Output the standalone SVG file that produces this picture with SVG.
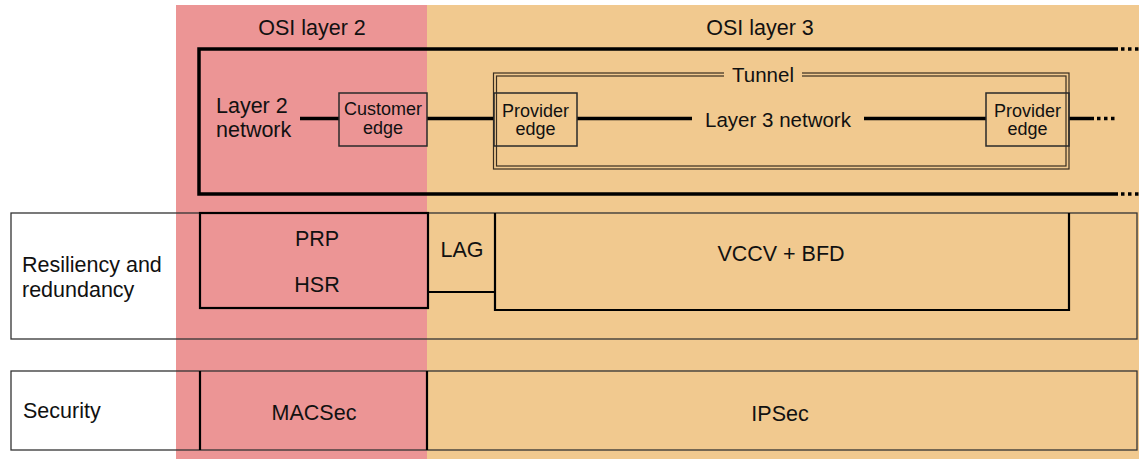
<svg xmlns="http://www.w3.org/2000/svg" width="1139" height="459" viewBox="0 0 1139 459">
  <style>
    text { font-family: "Liberation Sans", Arial, sans-serif; fill: #111; }
    .big { font-size: 21.5px; }
    .mid { font-size: 20.5px; }
    .small { font-size: 18px; }
    .mid-c, .big-c, .small-c { text-anchor: middle; }
    .frame { fill: none; stroke: #000; stroke-width: 3.5; }
    .box { fill: none; stroke: #2a2a2a; stroke-width: 1.5; }
    .hard { fill: none; stroke: #000; stroke-width: 2.2; }
    .row { fill: none; stroke: #333; stroke-width: 1.3; }
    .dbl { fill: none; stroke: #3a2e20; stroke-width: 1.2; }
    .link { stroke: #000; stroke-width: 3.5; fill: none; }
    .dots { stroke: #000; stroke-width: 3.5; fill: none; stroke-dasharray: 3.5 3.5; }
  </style>

  <rect x="0" y="0" width="1139" height="459" fill="#fff"/>

  <!-- OSI layer columns -->
  <g id="osi-layer-2">
    <rect x="176" y="5" width="251" height="454" fill="#EC9595"/>
    <text class="big big-c" x="312" y="35">OSI layer 2</text>
  </g>
  <g id="osi-layer-3">
    <rect x="427" y="5" width="712" height="454" fill="#F1C98F"/>
    <text class="big big-c" x="760" y="35">OSI layer 3</text>
  </g>

  <!-- network frame, open to the right -->
  <g id="network-frame">
    <path class="frame" d="M1118 49 H199 V194 H1118"/>
    <path class="dots" d="M1121 49 H1139 M1121 194 H1139"/>
  </g>

  <!-- tunnel (double outline) -->
  <g id="tunnel">
    <rect class="dbl" x="493.5" y="73" width="575.5" height="96"/>
    <rect class="dbl" x="496.5" y="76" width="569.5" height="90"/>
    <rect x="724" y="66" width="78" height="16" fill="#F1C98F"/>
    <text class="mid mid-c" x="763" y="82">Tunnel</text>
  </g>

  <!-- connectors -->
  <g id="connectors">
    <path class="link" d="M300 118.5 H339"/>
    <path class="link" d="M427 118.5 H494"/>
    <path class="link" d="M577 118.5 H692"/>
    <path class="link" d="M864 118.5 H986"/>
    <path class="link" d="M1069 118.5 H1094"/>
    <path class="dots" d="M1097 118.5 H1115"/>
  </g>

  <g id="layer2-network">
    <text class="big" x="216" y="113">Layer 2</text>
    <text class="big" x="216" y="137">network</text>
  </g>

  <g id="customer-edge">
    <rect class="box" x="339" y="93" width="88" height="53"/>
    <text class="small small-c" x="383" y="115">Customer</text>
    <text class="small small-c" x="383" y="134">edge</text>
  </g>

  <g id="provider-edge-a">
    <rect class="box" x="494" y="93" width="83" height="53" fill="#F1C98F"/>
    <text class="small small-c" x="535.5" y="117">Provider</text>
    <text class="small small-c" x="535.5" y="135">edge</text>
  </g>

  <g id="layer3-network">
    <text class="mid mid-c" x="778" y="127">Layer 3 network</text>
  </g>

  <g id="provider-edge-b">
    <rect class="box" x="986" y="93" width="83" height="53" fill="#F1C98F"/>
    <text class="small small-c" x="1027.5" y="117">Provider</text>
    <text class="small small-c" x="1027.5" y="135">edge</text>
  </g>

  <!-- resiliency and redundancy row -->
  <g id="row-resiliency">
    <rect class="row" x="11" y="213" width="1126" height="126"/>
    <text class="big" x="22" y="272">Resiliency and</text>
    <text class="big" x="22" y="297">redundancy</text>
  </g>
  <g id="prp-hsr">
    <rect class="hard" x="200" y="213" width="228" height="95"/>
    <text class="big big-c" x="317" y="246">PRP</text>
    <text class="big big-c" x="317" y="292">HSR</text>
  </g>
  <g id="lag">
    <path class="hard" d="M428 292 H495"/>
    <text class="big big-c" x="462" y="257">LAG</text>
  </g>
  <g id="vccv-bfd">
    <path class="hard" d="M495 213 V310 H1069 V213"/>
    <text class="big big-c" x="781" y="261">VCCV + BFD</text>
  </g>

  <!-- security row -->
  <g id="row-security">
    <rect class="row" x="11" y="371" width="1126" height="79"/>
    <text class="big" x="23" y="418">Security</text>
  </g>
  <g id="macsec">
    <path class="hard" d="M200 371 V450 M427 371 V450"/>
    <text class="big big-c" x="314" y="420">MACSec</text>
  </g>
  <g id="ipsec">
    <text class="big big-c" x="780" y="421">IPSec</text>
  </g>
</svg>
